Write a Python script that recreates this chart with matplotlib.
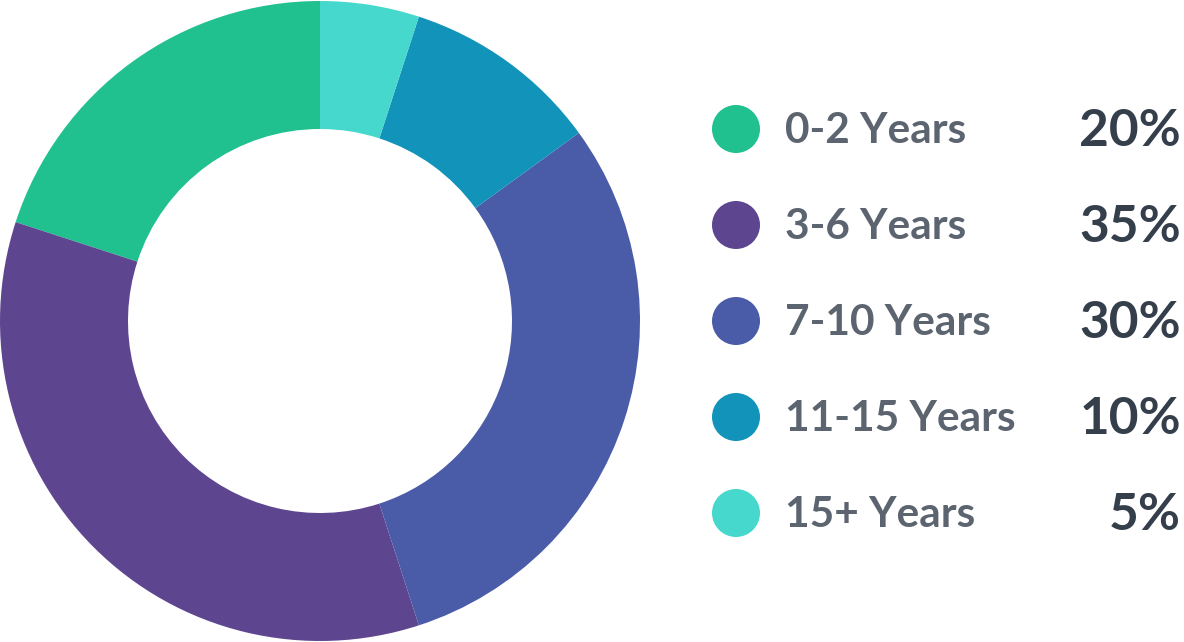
import matplotlib.pyplot as plt

# data
labels = ['0-2 Years', '3-6 Years', '7-10 Years', '11-15 Years', '15+ Years']
shares = [20, 35, 30, 10, 5]
colors = ['#20C08F', '#5E4590', '#4A5BA7', '#1193BA', '#46D8CD']

plt.rcParams['font.family'] = ['Lato', 'DejaVu Sans']

fig = plt.figure(figsize=(11.84, 6.42), dpi=100)

# donut on the left, 640 px wide
ax = fig.add_axes([0, 0, 640 / 1184, 1])
ax.pie(shares, colors=colors, startangle=90, radius=1,
       wedgeprops=dict(width=0.4, edgecolor='none'))
ax.set_xlim(-1, 1)
ax.set_ylim(-321 / 320, 321 / 320)
ax.set_aspect('equal')
ax.axis('off')

# legend drawn in pixel coordinates
lg = fig.add_axes([0, 0, 1, 1])
lg.set_xlim(0, 1184)
lg.set_ylim(642, 0)
lg.axis('off')
for i, (lab, val, col) in enumerate(zip(labels, shares, colors)):
    y = 129 + i * 96
    lg.scatter(736, y, s=(48 * 0.72) ** 2, color=col, edgecolors='none')
    lg.text(785, y + 2, lab, fontsize=30.5, fontweight=700, color='#5C6470',
            va='center', ha='left')
    lg.text(1181, y + 2, f'{val}%', fontsize=37, fontweight=700, color='#353E4B',
            va='center', ha='right')

fig.savefig('out.png', dpi=100)
